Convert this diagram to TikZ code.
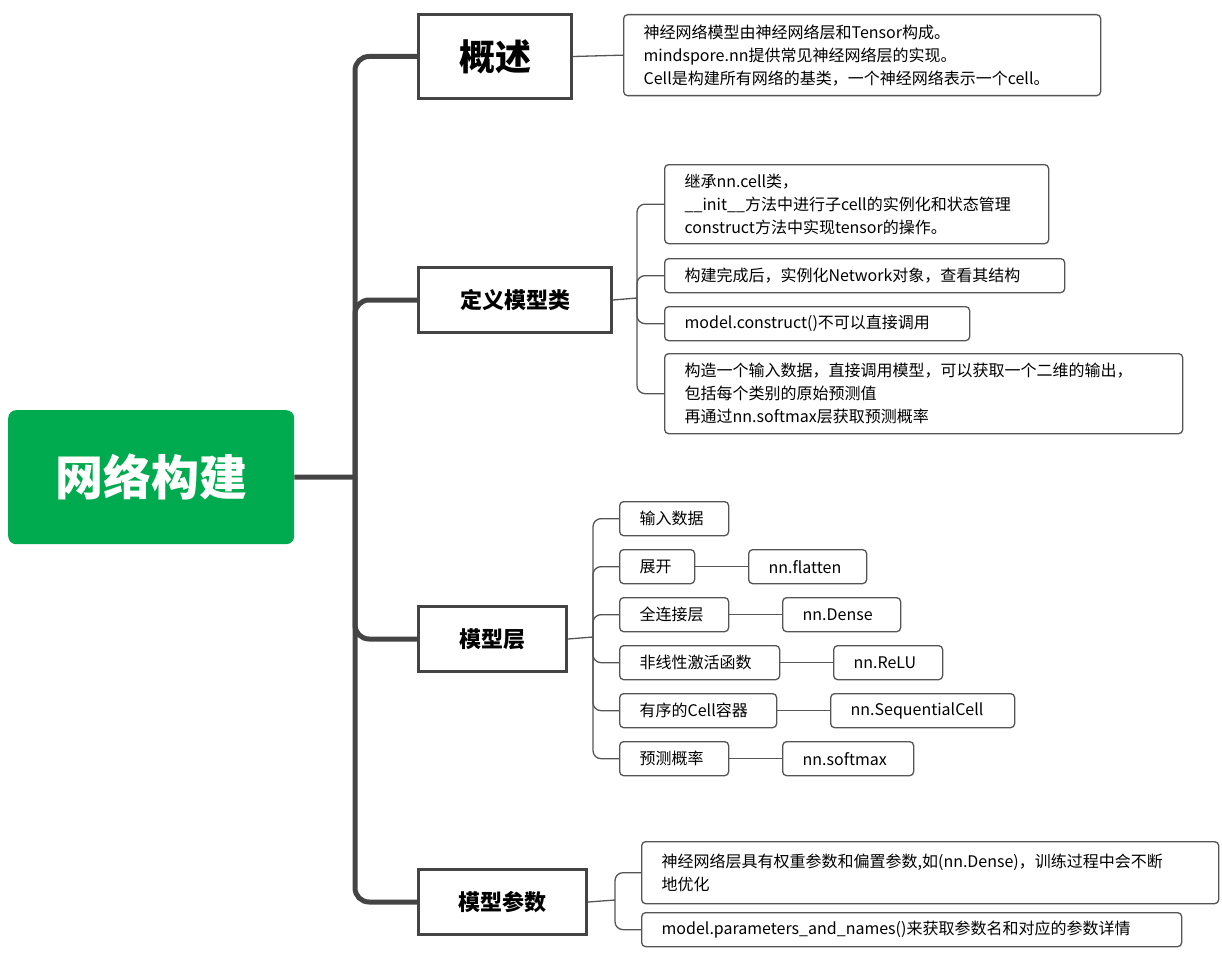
\documentclass[tikz,border=0pt]{standalone}
\usepackage{fontspec}
\setmainfont{Noto Sans CJK SC}
\definecolor{ln}{HTML}{444444}
\definecolor{bx}{HTML}{555555}
\definecolor{gr}{HTML}{00AA4F}
\begin{document}
\begin{tikzpicture}[x=1pt,y=-1pt,
  tb/.style={draw=bx,line width=1.3pt,rounded corners=4pt,anchor=north west,inner xsep=20pt,inner ysep=0pt,align=left,font=\fontsize{16}{23}\selectfont,text=black},
  main/.style={draw=ln,line width=3pt,anchor=north west,inner sep=0pt,font=\bfseries\fontsize{22}{26}\selectfont},
  trunk/.style={draw=ln,line width=5pt,rounded corners=14pt},
  br/.style={draw=bx,line width=1.3pt,rounded corners=8pt}]
\useasboundingbox[fill=white] (0,0) rectangle (1222,955);
% root
\node[fill=gr,rounded corners=8pt,anchor=north west,minimum width=286pt,minimum height=134pt,inner sep=0pt,text=white,font=\bfseries\fontsize{48}{54}\selectfont] (root) at (8,410) {网络构建};
\coordinate (t) at (355,477);
\draw[ln,line width=5pt] (root.east) -- (t);
% main boxes
\node[main,minimum width=153pt,minimum height=84pt,font=\bfseries\fontsize{36}{40}\selectfont] (a) at (417,13) {概述};
\node[main,minimum width=193pt,minimum height=65pt] (b) at (417,266) {定义模型类};
\node[main,minimum width=148pt,minimum height=65pt] (c) at (417,605) {模型层};
\node[main,minimum width=168pt,minimum height=65pt] (d) at (417,868) {模型参数};
\foreach \n in {a,b,c,d} \draw[trunk] (t) |- (\n.west);
% overview
\node[tb,minimum width=477pt,minimum height=81pt,text width=437pt] (a1) at (623,14) {神经网络模型由神经网络层和Tensor构成。\\mindspore.nn提供常见神经网络层的实现。\\Cell是构建所有网络的基类，一个神经网络表示一个cell。};
\draw[br] (a.east) -- (a1.west);
% define
\node[tb,minimum width=384pt,minimum height=79pt,text width=344pt] (b1) at (664,164) {继承nn.cell类，\\\_\_init\_\_方法中进行子cell的实例化和状态管理\\construct方法中实现tensor的操作。};
\node[tb,minimum width=400pt,minimum height=34pt,text width=360pt] (b2) at (664,258) {构建完成后，实例化Network对象，查看其结构};
\node[tb,minimum width=305pt,minimum height=34pt,text width=265pt] (b3) at (664,306) {model.construct()不可以直接调用};
\node[tb,minimum width=518pt,minimum height=80pt,text width=478pt] (b4) at (664,353) {构造一个输入数据，直接调用模型，可以获取一个二维的输出，\\包括每个类别的原始预测值\\再通过nn.softmax层获取预测概率};
\coordinate (bt) at (637,298);
\draw[br] (b.east) -- (bt);
\foreach \n in {b1,b2,b3,b4} \draw[br] (bt) |- (\n.west);
% layers
\node[tb,minimum width=109pt,minimum height=34pt,text width=69pt] (c1) at (619,501) {输入数据};
\node[tb,minimum width=75pt,minimum height=34pt,text width=35pt] (c2) at (619,549) {展开};
\node[tb,minimum width=109pt,minimum height=34pt,text width=69pt] (c3) at (619,597) {全连接层};
\node[tb,minimum width=160pt,minimum height=34pt,text width=120pt] (c4) at (619,645) {非线性激活函数};
\node[tb,minimum width=157pt,minimum height=34pt,text width=117pt] (c5) at (619,693) {有序的Cell容器};
\node[tb,minimum width=109pt,minimum height=34pt,text width=69pt] (c6) at (619,741) {预测概率};
\node[tb,minimum width=118pt,minimum height=34pt,text width=78pt] (e2) at (748,549) {nn.flatten};
\node[tb,minimum width=118pt,minimum height=34pt,text width=78pt] (e3) at (782,597) {nn.Dense};
\node[tb,minimum width=109pt,minimum height=34pt,text width=69pt] (e4) at (833,645) {nn.ReLU};
\node[tb,minimum width=184pt,minimum height=34pt,text width=144pt] (e5) at (830,693) {nn.SequentialCell};
\node[tb,minimum width=131pt,minimum height=34pt,text width=91pt] (e6) at (782,741) {nn.softmax};
\coordinate (ct) at (593,637);
\draw[br] (c.east) -- (ct);
\foreach \n in {c1,c2,c3,c4,c5,c6} \draw[br] (ct) |- (\n.west);
\foreach \i in {2,...,6} \draw[br] (c\i.east) -- (e\i.west);
% params
\node[tb,minimum width=577pt,minimum height=62pt,text width=537pt] (d1) at (641,841) {神经网络层具有权重参数和偏置参数,如(nn.Dense)，训练过程中会不断\\地优化};
\node[tb,minimum width=540pt,minimum height=34pt,text width=500pt] (d2) at (641,912) {model.parameters\_and\_names()来获取参数名和对应的参数详情};
\coordinate (dt) at (615,900);
\draw[br] (d.east) -- (dt);
\foreach \n in {d1,d2} \draw[br] (dt) |- (\n.west);
\end{tikzpicture}
\end{document}
